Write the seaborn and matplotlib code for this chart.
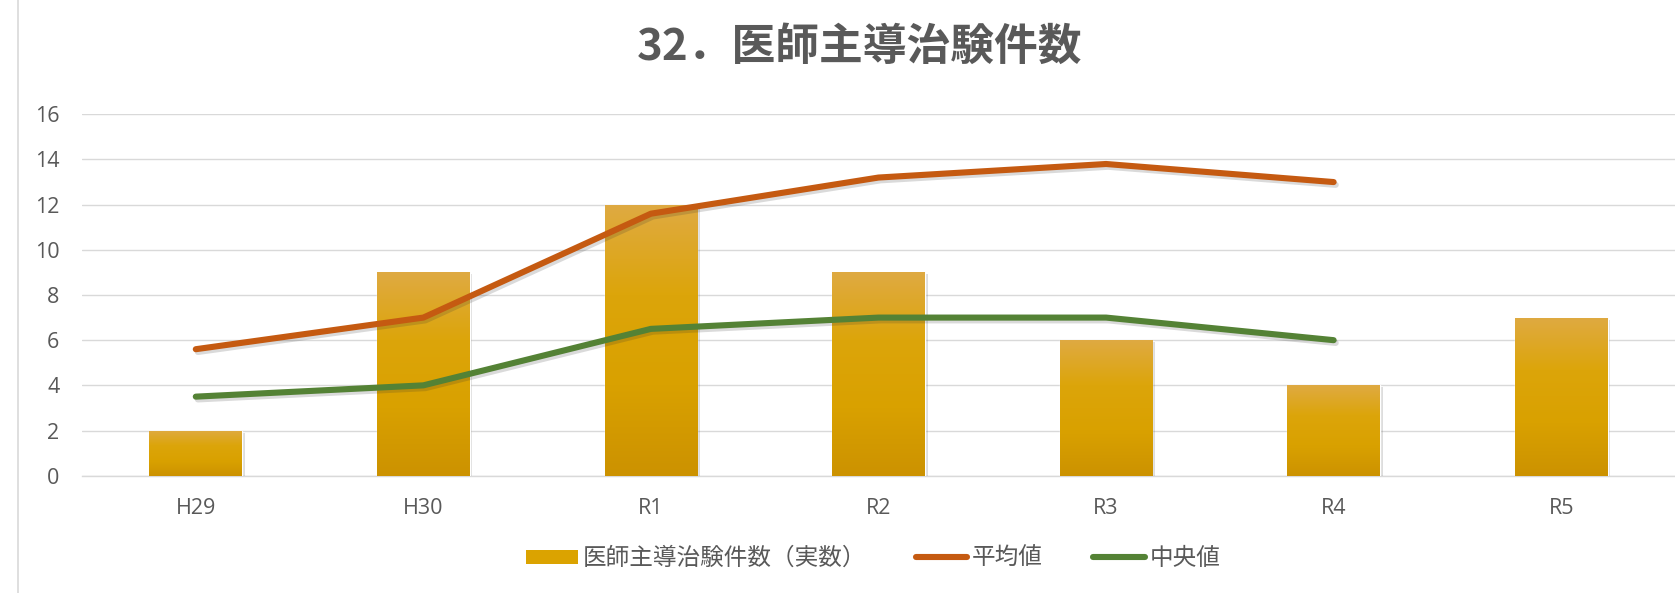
import numpy as np
import pandas as pd
import matplotlib
matplotlib.use("Agg")
import matplotlib.pyplot as plt
import matplotlib.patheffects as pe
from matplotlib.colors import LinearSegmentedColormap
from matplotlib.lines import Line2D
from matplotlib.patches import Patch
import seaborn as sns

# ---- data ----
categories = ["H29", "H30", "R1", "R2", "R3", "R4", "R5"]
counts = [2, 9, 12, 9, 6, 4, 7]
mean_vals = [5.6, 7.0, 11.6, 13.2, 13.8, 13.0]
median_vals = [3.5, 4.0, 6.5, 7.0, 7.0, 6.0]
title = "32．医師主導治験件数"
bar_label = "医師主導治験件数（実数）"
mean_label = "平均値"
median_label = "中央値"
yticks = [0, 2, 4, 6, 8, 10, 12, 14, 16]

sns.set_theme(style="white")
plt.rcParams["font.family"] = ["Open Sans", "Noto Sans CJK JP", "DejaVu Sans"]

W, H = 1675, 593
fig = plt.figure(figsize=(W / 100, H / 100), dpi=100)
ax = fig.add_axes([82 / W, 117.3 / H, (W - 82) / W, (475.7 - 114.3) / H])

grey_text = "#595959"
grid_c = "#d9d9d9"
bar_c = "#DBA300"
orange = "#C55A11"
green = "#548235"

df = pd.DataFrame({"cat": categories, "n": counts})
sns.barplot(data=df, x="cat", y="n", ax=ax, color=bar_c, width=0.407,
            saturation=1, zorder=3)

# gradient fill + shadow for bars
cmap = LinearSegmentedColormap.from_list(
    "g", ["#DFAA42", "#DCA50A", "#D9A100", "#CC9200"])
grad = np.linspace(0, 1, 256).reshape(-1, 1)
for p in list(ax.patches):
    p.set_path_effects([pe.SimplePatchShadow(offset=(2, -1.5), alpha=0.2,
                                             shadow_rgbFace="#555555"),
                        pe.Normal()])
    x0, y0 = p.get_x(), p.get_y()
    w, h = p.get_width(), p.get_height()
    im = ax.imshow(grad, cmap=cmap, aspect="auto",
                   extent=[x0, x0 + w, y0, y0 + h], origin="upper",
                   zorder=3.5)
    im.set_clip_path(p)

pos = np.arange(len(mean_vals))
shadow = [pe.SimpleLineShadow(offset=(1.5, -2.0), alpha=0.18, shadow_color="#333333"),
          pe.Normal()]
sns.lineplot(x=pos, y=mean_vals, ax=ax, color=orange, linewidth=4.4,
             sort=False, zorder=5)
sns.lineplot(x=pos, y=median_vals, ax=ax, color=green, linewidth=4.4,
             sort=False, zorder=5)
for ln in ax.get_lines():
    ln.set_solid_capstyle("round")
    ln.set_solid_joinstyle("round")
    ln.set_path_effects(shadow)

ax.set_xlim(-0.5, 6.5)
ax.set_ylim(0, 16)
ax.set_yticks(yticks)
ax.set_xticks(range(len(categories)))
ax.set_xticklabels(categories)
ax.set_xlabel("")
ax.set_ylabel("")
ax.grid(axis="y", color=grid_c, linewidth=1.0, zorder=0)
ax.set_axisbelow(True)
for s in ["top", "right", "left"]:
    ax.spines[s].set_visible(False)
ax.spines["bottom"].set_color(grid_c)
ax.spines["bottom"].set_linewidth(1.0)
ax.tick_params(axis="both", length=0, labelsize=15.5, labelcolor=grey_text)
ax.tick_params(axis="y", pad=16.3)
ax.tick_params(axis="x", pad=16.0)
ax.patch.set_alpha(0)

fig.text(860 / W, 1 - 47 / H, title, ha="center", va="center",
         fontsize=31.5, fontweight="bold", color=grey_text,
         family=["Noto Sans CJK JP", "DejaVu Sans"])

handles = [Patch(facecolor=bar_c, edgecolor="none"),
           Line2D([0], [0], color=orange, linewidth=4.4, solid_capstyle="round"),
           Line2D([0], [0], color=green, linewidth=4.4, solid_capstyle="round")]
leg = fig.legend(handles, [bar_label, mean_label, median_label],
                 loc="center", bbox_to_anchor=(873 / W, 1 - 558.7 / H),
                 ncol=3, frameon=False, handlelength=2.2, handleheight=0.55,
                 handletextpad=0.2, columnspacing=2.1,
                 prop={"family": ["Noto Sans CJK JP", "DejaVu Sans"], "size": 17})
for t in leg.get_texts():
    t.set_color(grey_text)

fig.add_artist(Line2D([18 / W, 18 / W], [0, 1], color=grid_c, linewidth=1.2,
                      transform=fig.transFigure))

fig.savefig("out.png", dpi=100)
